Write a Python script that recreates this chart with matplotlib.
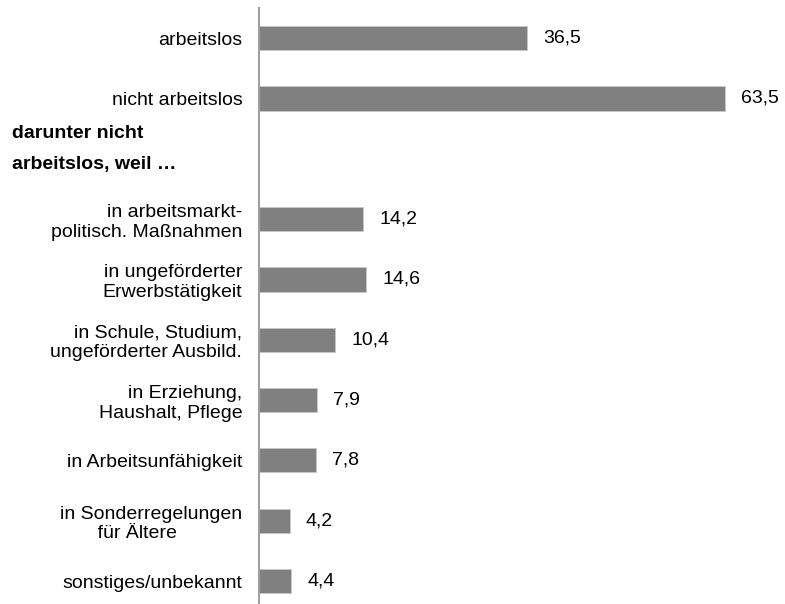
import matplotlib.pyplot as plt

plt.rcParams['font.family'] = ['Liberation Sans', 'DejaVu Sans']

# Kategorien (None = Zwischenüberschrift ohne Balken)
labels = ['arbeitslos', 'nicht arbeitslos', None,
          'in arbeitsmarkt-\npolitisch. Maßnahmen',
          'in ungeförderter\nErwerbstätigkeit',
          'in Schule, Studium,\nungeförderter Ausbild.',
          'in Erziehung,\nHaushalt, Pflege',
          'in Arbeitsunfähigkeit',
          'in Sonderregelungen\n       für Ältere',
          'sonstiges/unbekannt']
values = [36.5, 63.5, None, 14.2, 14.6, 10.4, 7.9, 7.8, 4.2, 4.4]
header = 'darunter nicht\narbeitslos, weil …'

fig = plt.figure(figsize=(7.85, 6.04), dpi=100)
ax = fig.add_axes([259 / 785, 0, 1 - 259 / 785, 1 - 8 / 604])

pos = [i for i, v in enumerate(values) if v is not None]
vals = [values[i] for i in pos]
ax.barh(pos, vals, height=0.4, color='#808080', edgecolor='#c8c8c8', linewidth=0.6)

for p, v in zip(pos, vals):
    ax.annotate(f'{v:.1f}'.replace('.', ','), (v, p), xytext=(11.5, 0),
                textcoords='offset points', va='center', ha='left', fontsize=14)

ax.set_xlim(0, 71.6)
ax.set_ylim(9.38, -0.5)
ax.set_yticks(pos)
ax.set_yticklabels([labels[i] for i in pos], fontsize=14)
for t in ax.get_yticklabels():
    if 'Sonderregelungen' in t.get_text():
        t.set_multialignment('left')
ax.tick_params(axis='y', length=0, pad=12)
ax.set_xticks([])
for s in ['top', 'right', 'bottom']:
    ax.spines[s].set_visible(False)
ax.spines['left'].set_color('#a0a0a0')
ax.spines['left'].set_linewidth(1.5)

fig.text(12 / 785, 1 - 149 / 604, header, fontsize=14, fontweight='bold',
         ha='left', va='center', linespacing=2.1)

fig.savefig('out.png', dpi=100)
